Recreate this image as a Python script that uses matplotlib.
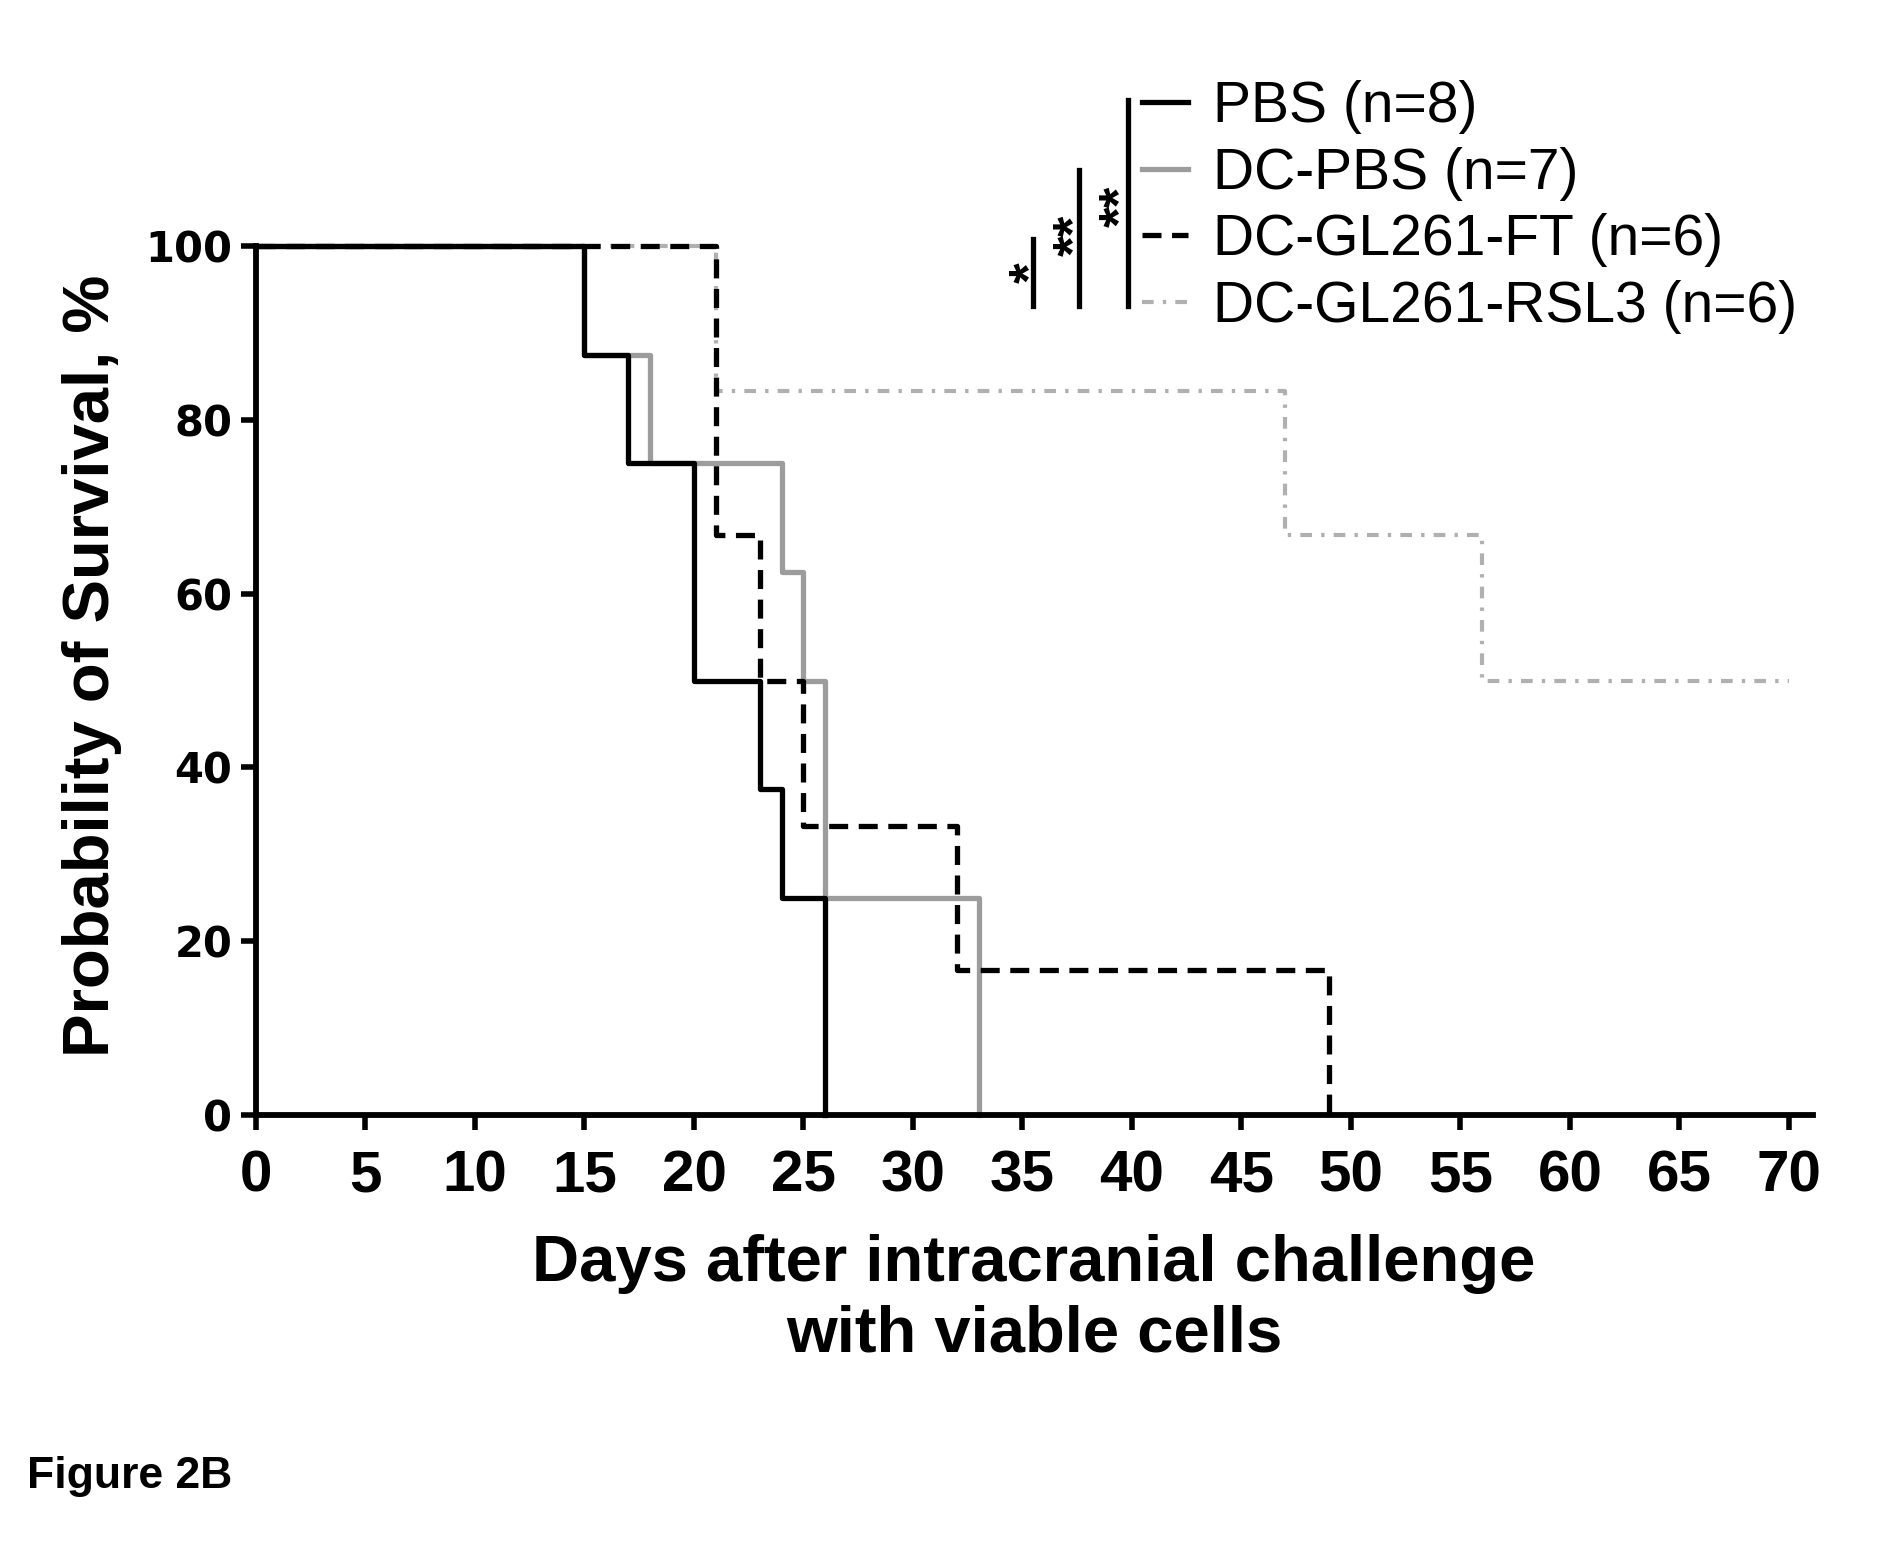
import matplotlib
matplotlib.use("Agg")
import matplotlib.pyplot as plt
from matplotlib import font_manager as fm
from matplotlib.lines import Line2D


def available(name):
    try:
        fm.findfont(fm.FontProperties(family=name), fallback_to_default=False)
        return True
    except Exception:
        return False


NARROW = "Liberation Sans Narrow" if available("Liberation Sans Narrow") else "Liberation Sans"

# ---------------- data ----------------
groups = ["PBS (n=8)", "DC-PBS (n=7)", "DC-GL261-FT (n=6)", "DC-GL261-RSL3 (n=6)"]

pbs_days = [0, 15, 17, 20, 23, 24, 26]
pbs_surv = [100, 87.5, 75, 50, 37.5, 25, 0]

dcpbs_days = [0, 15, 18, 24, 25, 26, 33]
dcpbs_surv = [100, 87.5, 75, 62.5, 50, 25, 0]

ft_days = [0, 21, 23, 25, 32, 49]
ft_surv = [100, 66.7, 50, 33.3, 16.7, 0]

rsl3_days = [0, 21, 47, 56, 70]
rsl3_surv = [100, 83.3, 66.7, 50, 50]

x_ticks = list(range(0, 71, 5))
y_ticks = [0, 20, 40, 60, 80, 100]

# significance brackets
sig_x = [35.5, 37.6, 39.8]
sig_bottom = [93.1, 93.1, 93.1]
sig_top = [100.8, 108.8, 116.8]
sig_labels = ["*", "**", "**"]
sig_label_x = [34.95, 37.0, 39.1]
sig_label_y = [96.9, 101.2, 104.6]

# ---------------- figure ----------------
W, H = 1892, 1558
fig = plt.figure(figsize=(W / 100, H / 100), dpi=100)
ax = fig.add_axes([256 / W, 443 / H, (1813 - 256) / W, (1312 - 443) / H])

BLACK = "#000000"
GRAY = "#9c9c9c"
LGRAY = "#b0b0b0"
LW = 3.8
RSL3_DASH = (2.8, 2.2, 0.8, 2.2)
FT_DASH = (3.6, 2.0)

ax.step(rsl3_days, rsl3_surv, where="post", color=LGRAY, lw=3.0,
        dashes=RSL3_DASH, clip_on=False, zorder=2)
ax.step(dcpbs_days, dcpbs_surv, where="post", color=GRAY, lw=LW,
        clip_on=False, zorder=3)
ax.step(ft_days, ft_surv, where="post", color=BLACK, lw=LW,
        dashes=FT_DASH, clip_on=False, zorder=4)
ax.step(pbs_days, pbs_surv, where="post", color=BLACK, lw=LW,
        clip_on=False, zorder=5)

ax.set_xlim(0, 71.1)
ax.set_ylim(0, 100)
for s in ["top", "right"]:
    ax.spines[s].set_visible(False)
for s in ["left", "bottom"]:
    ax.spines[s].set_linewidth(4.2)
    ax.spines[s].set_zorder(6)

ax.set_xticks(x_ticks)
ax.set_xticklabels([str(t) for t in x_ticks])
ax.set_yticks(y_ticks)
ax.set_yticklabels([str(t) for t in y_ticks])
ax.tick_params(axis="both", direction="out", length=11, width=4.0)
ax.tick_params(axis="x", pad=14)
ax.tick_params(axis="y", pad=6)
for lab in ax.get_xticklabels():
    lab.set_fontfamily(NARROW)
    lab.set_fontweight("bold")
    lab.set_fontsize(42)
for lab in ax.get_yticklabels():
    lab.set_fontfamily("DejaVu Sans")
    lab.set_fontweight("bold")
    lab.set_fontsize(30)

# axis titles
fig.text(1034 / W, 1 - 1351 / H, "Days after intracranial challenge\nwith viable cells",
         ha="center", va="baseline", multialignment="center",
         fontfamily=NARROW, fontweight="bold", fontsize=47, linespacing=1.22)
fig.text(92 / W, 1 - 666 / H, "Probability of Survival, %", rotation=90,
         ha="center", va="center", fontfamily=NARROW, fontweight="bold", fontsize=47)

# significance brackets
for x, b, t, lab, lx, ly in zip(sig_x, sig_bottom, sig_top, sig_labels, sig_label_x, sig_label_y):
    ax.plot([x, x], [b, t], color=BLACK, lw=3.8, clip_on=False, zorder=7)
    ax.text(lx + 0.5, ly, lab, rotation=90, ha="center", va="center", fontsize=38,
            fontweight="bold", fontfamily="Liberation Sans", clip_on=False)

# legend
handles = [
    Line2D([], [], color=BLACK, lw=LW),
    Line2D([], [], color=GRAY, lw=LW),
    Line2D([], [], color=BLACK, lw=LW, dashes=FT_DASH),
    Line2D([], [], color=LGRAY, lw=3.0, dashes=RSL3_DASH),
]
leg = ax.legend(handles, groups, loc="upper left",
                bbox_to_anchor=(1142 / W, 1 - 80 / H), bbox_transform=fig.transFigure,
                frameon=False, prop={"family": NARROW, "size": 41},
                handlelength=0.8, handletextpad=0.45, labelspacing=0.22,
                borderaxespad=0, borderpad=0)

fig.text(27 / W, 1 - 1488 / H, "Figure 2B", ha="left", va="baseline",
         fontfamily="Liberation Sans", fontweight="bold", fontsize=32)

fig.savefig("out.png", dpi=100, facecolor="white")
